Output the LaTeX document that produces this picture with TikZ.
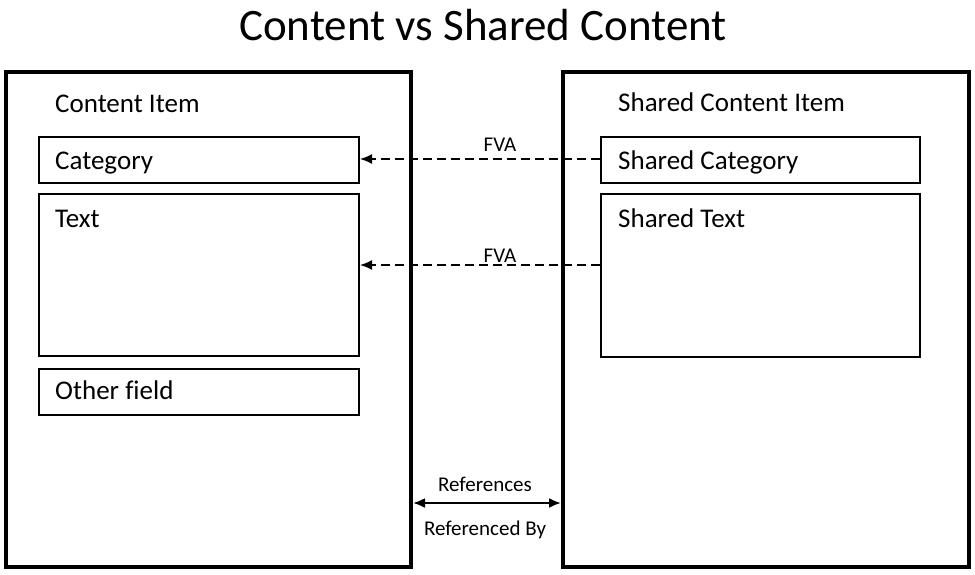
\documentclass[tikz,border=0pt]{standalone}
\usepackage{fontspec}
\setmainfont{Carlito}[Ligatures=NoCommon]
\usetikzlibrary{arrows.meta}
\begin{document}
\begin{tikzpicture}[x=1pt,y=-1pt,
  outerbox/.style={draw=black,line width=4pt},
  fieldbox/.style={draw=black,line width=2pt},
  lbl/.style={anchor=base west,inner sep=0pt,font=\fontsize{27}{30}\selectfont},
  small/.style={anchor=base,inner sep=0pt,font=\fontsize{21}{24}\selectfont},
  fva/.style={line width=1.6pt,dash pattern=on 9pt off 5pt,-{Latex[length=12pt,width=10pt]}},
  refarrow/.style={line width=2.2pt,{Latex[length=12pt,width=10pt]}-{Latex[length=12pt,width=10pt]}}]
\useasboundingbox (0,0) rectangle (975,575);
% title
\node[anchor=base,inner sep=0pt,font=\fontsize{45}{50}\selectfont] (title) at (483,41) {Content vs Shared Content};
% outer boxes
\draw[outerbox] (6,72) rectangle (411,567);
\draw[outerbox] (563,72) rectangle (969,567);
% left fields
\node[fieldbox,minimum width=320pt,minimum height=46pt,anchor=north west] (cat) at (38,136) {};
\node[fieldbox,minimum width=320pt,minimum height=162pt,anchor=north west] (txt) at (38,193) {};
\node[fieldbox,minimum width=320pt,minimum height=46pt,anchor=north west] (oth) at (38,368) {};
% right fields
\node[fieldbox,minimum width=319pt,minimum height=46pt,anchor=north west] (scat) at (600,136) {};
\node[fieldbox,minimum width=319pt,minimum height=163pt,anchor=north west] (stxt) at (600,193) {};
% labels
\node[lbl] (ci) at (55,113) {Content Item};
\node[lbl] (catl) at (55,170) {Category};
\node[lbl] (txtl) at (55,227) {Text};
\node[lbl] (othl) at (55,399) {Other field};
\node[lbl] (sci) at (618,112) {Shared Content Item};
\node[lbl] (scatl) at (618,170) {Shared Category};
\node[lbl] (stxtl) at (618,227) {Shared Text};
% FVA arrows
\draw[fva] (scat.west |- 0,159) -- (cat.east |- 0,159);
\draw[fva] (stxt.west |- 0,265) -- (txt.east |- 0,265);
\node[small] (fva1) at (500,152) {FVA};
\node[small] (fva2) at (500,262) {FVA};
% reference arrow
\coordinate (rl) at (413,503);
\coordinate (rr) at (561,503);
\draw[refarrow] (rl) -- (rr);
\node[small] (refs) at (485,491) {References};
\node[small] (refby) at (485,535) {Referenced By};
\end{tikzpicture}
\end{document}
